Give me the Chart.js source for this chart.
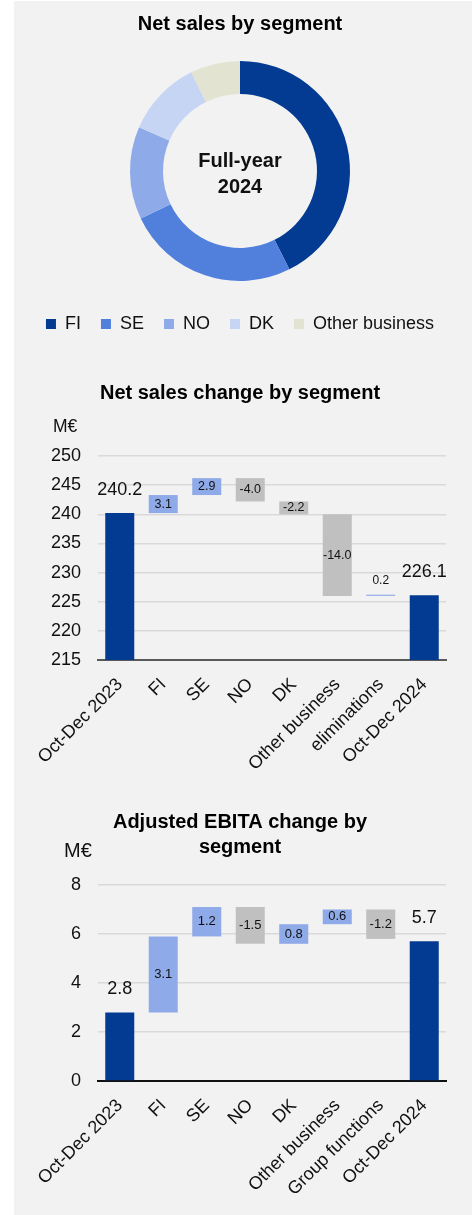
<!DOCTYPE html>
<html>
<head>
<meta charset="utf-8">
<script src="https://cdn.jsdelivr.net/npm/chart.js@4.4.1/dist/chart.umd.min.js"></script>
<style>
  body { margin: 0; background: #fff; }
  #panel { position: absolute; left: 14px; top: 1px; width: 458px; height: 1214px; background: #f2f2f2; }
  canvas { position: absolute; left: 0; }
</style>
</head>
<body>
<div id="panel"></div>
<canvas id="donut" width="472" height="350" style="top:0"></canvas>
<canvas id="sales" width="472" height="440" style="top:360px"></canvas>
<canvas id="ebita" width="472" height="415" style="top:800px"></canvas>
<script>
const FONT = "'Liberation Sans', Arial, sans-serif";

// donut: full-year net sales split (share of total, %)
const segments = ['FI', 'SE', 'NO', 'DK', 'Other business'];
const segmentShares = [42.6, 25.3, 13.6, 11.2, 7.3];
const segmentColors = ['#043b92', '#507fdc', '#8faae8', '#c6d5f4', '#e3e3d2'];

// net sales bridge, M€
const salesLabels = ['Oct-Dec 2023', 'FI', 'SE', 'NO', 'DK', 'Other business', 'eliminations', 'Oct-Dec 2024'];
const salesStart = 240.2;
const salesChanges = [3.1, 2.9, -4.0, -2.2, -14.0, 0.2];
const salesEnd = 226.1;
const salesTicks = [215, 250, 5];

// adjusted EBITA bridge, M€
const ebitaLabels = ['Oct-Dec 2023', 'FI', 'SE', 'NO', 'DK', 'Other business', 'Group functions', 'Oct-Dec 2024'];
const ebitaStart = 2.8;
const ebitaChanges = [3.1, 1.2, -1.5, 0.8, 0.6, -1.2];
const ebitaEnd = 5.7;
const ebitaTicks = [0, 8, 2];

const TOTAL = '#043b92', UP = '#8faae8', DOWN = '#c0c0c0';

Chart.defaults.font.family = FONT;
Chart.defaults.color = '#111';

const centerText = {
  id: 'centerText',
  afterDraw(chart) {
    const {ctx} = chart;
    const arc = chart.getDatasetMeta(0).data[0];
    ctx.save();
    ctx.font = 'bold 20px ' + FONT;
    ctx.fillStyle = '#111';
    ctx.textAlign = 'center';
    ctx.textBaseline = 'alphabetic';
    ctx.fillText('Full-year', arc.x, arc.y - 4);
    ctx.fillText('2024', arc.x, arc.y + 22);
    ctx.restore();
  }
};

new Chart(document.getElementById('donut'), {
  type: 'doughnut',
  data: {
    labels: segments,
    datasets: [{ data: segmentShares, backgroundColor: segmentColors, borderWidth: 0 }]
  },
  options: {
    responsive: false,
    animation: false,
    radius: 110,
    cutout: '70%',
    layout: { padding: { left: 14, right: 6, top: 0, bottom: 7 } },
    plugins: {
      title: {
        display: true, text: 'Net sales by segment', color: '#000',
        font: { size: 20, weight: 'bold' }, padding: { top: 12, bottom: 11 }
      },
      legend: {
        position: 'bottom',
        labels: { boxWidth: 10, boxHeight: 10, padding: 20, font: { size: 18 }, color: '#111' }
      },
      tooltip: { enabled: false }
    }
  },
  plugins: [centerText]
});

// floating bars for a bridge: totals as plain values, changes as [from, to]
function bridge(start, changes, end) {
  const data = [start];
  let run = start;
  changes.forEach(c => { data.push([run, run + c]); run += c; });
  data.push(end);
  return data;
}
function bridgeColors(changes) {
  return [TOTAL, ...changes.map(c => c >= 0 ? UP : DOWN), TOTAL];
}

const waterfallLabels = {
  id: 'waterfallLabels',
  afterDatasetsDraw(chart, args, opts) {
    const {ctx} = chart;
    const bars = chart.getDatasetMeta(0).data;
    ctx.save();
    ctx.fillStyle = '#111';
    ctx.textAlign = 'center';
    ctx.textBaseline = 'middle';
    bars.forEach((bar, i) => {
      const text = opts.texts[i];
      if (i === 0 || i === bars.length - 1) {
        ctx.font = '18px ' + FONT;
        ctx.fillText(text, bar.x, bar.y - 23);
        return;
      }
      const top = Math.min(bar.y, bar.base);
      const h = Math.abs(bar.base - bar.y);
      if (h < 8) {
        ctx.font = '12px ' + FONT;
        ctx.fillText(text, bar.x, top - 14);
      } else {
        ctx.font = opts.size + 'px ' + FONT;
        ctx.fillText(text, bar.x, top + h / 2);
      }
    });
    // unit above the value axis
    ctx.textAlign = 'left';
    ctx.font = opts.unitSize + 'px ' + FONT;
    ctx.fillText('M€', opts.unitX, chart.chartArea.top - opts.unitGap);
    ctx.restore();
  }
};

function bridgeChart(id, labels, start, changes, end, ticks, title, extra) {
  const texts = [start, ...changes, end].map(v => v.toFixed(1));
  return new Chart(document.getElementById(id), {
    type: 'bar',
    data: {
      labels: labels,
      datasets: [{
        data: bridge(start, changes, end),
        backgroundColor: bridgeColors(changes),
        barPercentage: 0.667,
        categoryPercentage: 1
      }]
    },
    options: {
      responsive: false,
      animation: false,
      // left padding keeps the title centred over the panel; axis width makes up the rest
      layout: { padding: { left: 34, right: 26 } },
      scales: {
        y: {
          min: ticks[0], max: ticks[1],
          ticks: { stepSize: ticks[2], font: { size: 18 }, color: '#111', padding: 17 },
          grid: { color: '#d9d9d9', lineWidth: 1.5, drawTicks: false },
          border: { display: false },
          afterFit: s => { s.width = 64; }
        },
        x: {
          grid: { display: false },
          border: { display: true, color: extra.axisColor, width: 2 },
          ticks: { autoSkip: false, minRotation: 45, maxRotation: 45, font: { size: 18 }, color: '#111', padding: 6 },
          afterFit: s => { s.height = extra.xHeight; }
        }
      },
      plugins: {
        legend: { display: false },
        tooltip: { enabled: false },
        title: {
          display: true, text: title, color: '#000',
          font: { size: 20, weight: 'bold', lineHeight: 1.25 },
          padding: extra.titlePad
        },
        waterfallLabels: { texts: texts, size: extra.labelSize, unitX: extra.unitX, unitGap: extra.unitGap, unitSize: extra.unitSize }
      }
    },
    plugins: [waterfallLabels]
  });
}

bridgeChart('sales', salesLabels, salesStart, salesChanges, salesEnd, salesTicks,
  'Net sales change by segment',
  { axisColor: '#595959', xHeight: 140, titlePad: { top: 21, bottom: 50 }, labelSize: 12.5,
    unitX: 53, unitGap: 29, unitSize: 17.5 });

bridgeChart('ebita', ebitaLabels, ebitaStart, ebitaChanges, ebitaEnd, ebitaTicks,
  ['Adjusted EBITA change by', 'segment'],
  { axisColor: '#111', xHeight: 134, titlePad: { top: 10, bottom: 25 }, labelSize: 13,
    unitX: 64, unitGap: 34, unitSize: 20 });
</script>
</body>
</html>
